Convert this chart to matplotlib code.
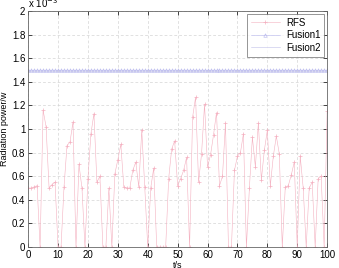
import matplotlib
matplotlib.use("Agg")
import matplotlib.pyplot as plt
import numpy as np

plt.rcParams['font.family'] = ['Liberation Sans', 'DejaVu Sans']

t = list(range(101))
rfs = [0.50, 0.50, 0.51, 0.52, 0.00, 1.16, 1.02, 0.50, 0.53, 0.55,
       0.00, 0.00, 0.51, 0.86, 0.89, 1.06, 0.00, 0.70, 0.50, 0.00,
       0.58, 0.96, 1.13, 0.55, 0.60, 0.00, 0.00, 0.50, 0.00, 0.62,
       0.74, 0.87, 0.51, 0.50, 0.50, 0.65, 0.72, 0.51, 0.99, 0.51,
       0.00, 0.50, 0.67, 0.00, 0.00, 0.00, 0.00, 0.58, 0.83, 0.90,
       0.52, 0.58, 0.65, 0.76, 0.00, 1.10, 1.27, 0.55, 0.79, 1.21,
       0.68, 0.78, 0.95, 1.14, 0.52, 0.60, 1.05, 0.00, 0.00, 0.65,
       0.77, 0.80, 0.96, 0.00, 0.50, 0.93, 0.68, 1.05, 0.57, 0.82,
       0.99, 0.52, 0.77, 0.94, 0.79, 0.00, 0.51, 0.52, 0.61, 0.72,
       0.00, 0.77, 0.50, 0.00, 0.50, 0.55, 0.00, 0.58, 0.60, 0.00,
       1.15]
fusion1_level = 1.50
fusion2_level = 1.49
fusion1 = [fusion1_level] * len(t)
fusion2 = [fusion2_level] * len(t)
yticks = [0, 0.2, 0.4, 0.6, 0.8, 1, 1.2, 1.4, 1.6, 1.8, 2]
ytick_labels = ['0', '0.2', '0.4', '0.6', '0.8', '1', '1.2', '1.4', '1.6', '1.8', '2']
xticks = [0, 10, 20, 30, 40, 50, 60, 70, 80, 90, 100]

fig = plt.figure(figsize=(3.39, 2.68), dpi=100)
ax = fig.add_axes([0.083, 0.078, 0.882, 0.881])

ax.plot(t, rfs, color='#f4b0c0', lw=0.4, marker='+', ms=3, mew=0.5, label='RFS')
ax.plot(t, fusion1, color='#b4b4ec', lw=0.4, marker='^', ms=2.5, mew=0.4,
        mfc='none', label='Fusion1')
ax.plot(t, fusion2, color='#c0c0e8', lw=0.4, label='Fusion2')

ax.set_xlim(0, 100)
ax.set_ylim(0, 2)
ax.set_xticks(xticks)
ax.set_yticks(yticks)
ax.set_yticklabels(ytick_labels)
ax.tick_params(direction='in', top=True, right=True, labelsize=7, length=3, width=0.5, pad=2)
for s in ax.spines.values():
    s.set_linewidth(0.6)
    s.set_color('#666666')
ax.grid(True, ls=(0, (4, 3)), color='#d4d4d4', lw=0.5)

ax.set_xlabel('t/s', fontsize=6.5, labelpad=1)
ax.set_ylabel('Radiation power/w', fontsize=6.5, labelpad=2)
ax.text(0.0, 1.005, r'x 10$^{-3}$', transform=ax.transAxes, fontsize=7, va='bottom', ha='left')

leg = ax.legend(loc='upper right', fontsize=7, frameon=True, fancybox=False,
                edgecolor='#666666', handlelength=3.0, borderpad=0.4, labelspacing=0.25,
                borderaxespad=0.3, handletextpad=0.6)
leg.get_frame().set_linewidth(0.6)

fig.savefig('out.png', dpi=100)
